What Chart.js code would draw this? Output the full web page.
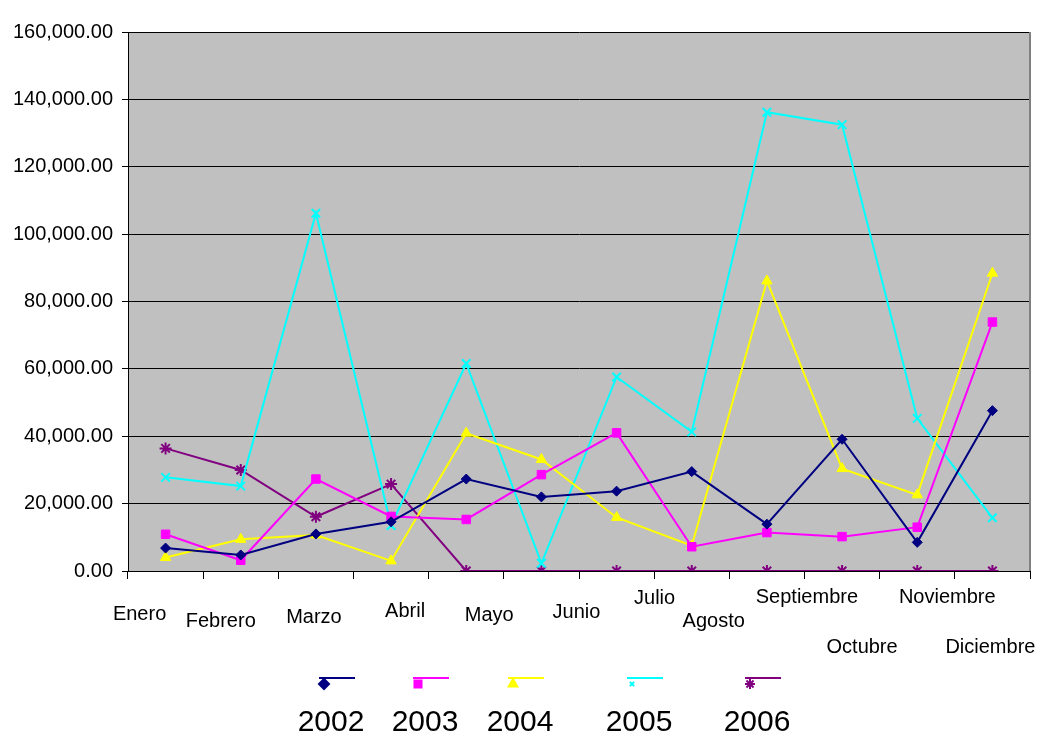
<!DOCTYPE html>
<html>
<head>
<meta charset="utf-8">
<script src="https://cdn.jsdelivr.net/npm/chart.js@4.4.1/dist/chart.umd.min.js"></script>
<style>
    body { margin: 0; background: #ffffff; }
    #grafica { display: block; }
</style>
</head>
<body>
<canvas id="grafica" width="1050" height="736"></canvas>
<script>
// Datos
const meses = ['Enero', 'Febrero', 'Marzo', 'Abril', 'Mayo', 'Junio', 'Julio', 'Agosto', 'Septiembre', 'Octubre', 'Noviembre', 'Diciembre'];
const anios = ['2002', '2003', '2004', '2005', '2006'];
const valores2002 = [6800, 4750, 11000, 14600, 27300, 22000, 23700, 29500, 13900, 39100, 8500, 47600];
const valores2003 = [10900, 3200, 27300, 16200, 15300, 28600, 41000, 7200, 11400, 10200, 13000, 73900];
const valores2004 = [4000, 9400, 10700, 3000, 40900, 33100, 15900, 7500, 86100, 30400, 22600, 88400];
const valores2005 = [27800, 25200, 106200, 13500, 61600, 2300, 57600, 41300, 136200, 132500, 45300, 15800];
const valores2006 = [36400, 30000, 16100, 25800, 0, 0, 0, 0, 0, 0, 0, 0];
const ticksY = [0, 20000, 40000, 60000, 80000, 100000, 120000, 140000, 160000];

// Estilos de cada serie
const colores = ['#000080', '#FF00FF', '#FFFF00', '#00FFFF', '#800080'];
const marcadores = ['rectRot', 'rect', 'triangle', 'crossRot', 'star'];
const radios = [5, 6, 6, 6, 6];

// Posición de las etiquetas del eje X (desplazamiento respecto al centro y línea base)
const etiquetaPos = [[-26, 620], [-20, 627], [-2, 623], [14, 617], [23, 621], [35, 618],
    [38, 604], [22, 627], [40, 603], [20, 653], [30, 603], [-2, 653]];
// Leyenda: centro del texto
const leyendaX = [331, 425, 520, 639, 757];

const fuente = 'Arial, "Liberation Sans", sans-serif';

const fondoGris = {
    id: 'fondoGris',
    beforeDraw(chart){
        const a = chart.chartArea;
        const ctx = chart.ctx;
        ctx.save();
        ctx.fillStyle = '#C0C0C0';
        ctx.fillRect(a.left, a.top, a.right - a.left, a.bottom - a.top);
        ctx.restore();
    },
    afterDraw(chart){
        const a = chart.chartArea;
        const ctx = chart.ctx;
        ctx.save();
        // borde derecho gris
        ctx.strokeStyle = '#808080';
        ctx.lineWidth = 2;
        ctx.beginPath();
        ctx.moveTo(a.right, a.top);
        ctx.lineTo(a.right, a.bottom);
        ctx.stroke();
        ctx.restore();
    }
};

const etiquetasMeses = {
    id: 'etiquetasMeses',
    afterDraw(chart){
        const ctx = chart.ctx;
        const escala = chart.scales.x;
        ctx.save();
        ctx.fillStyle = '#000';
        ctx.font = '20px ' + fuente;
        ctx.textAlign = 'center';
        ctx.textBaseline = 'alphabetic';
        for (let i = 0; i < meses.length; i++) {
            const x = escala.getPixelForValue(i) + etiquetaPos[i][0];
            ctx.fillText(meses[i], x, etiquetaPos[i][1]);
        }
        ctx.restore();
    }
};

const leyenda = {
    id: 'leyenda',
    afterDraw(chart){
        const ctx = chart.ctx;
        ctx.save();
        for (let i = 0; i < anios.length; i++) {
            const x0 = leyendaX[i] - 12;
            ctx.strokeStyle = colores[i];
            ctx.fillStyle = colores[i];
            ctx.lineWidth = 2;
            ctx.beginPath();
            ctx.moveTo(x0, 678);
            ctx.lineTo(x0 + 36, 678);
            ctx.stroke();
            Chart.helpers.drawPoint(ctx, {
                pointStyle: marcadores[i],
                radius: i === 3 ? 3 : 5,
                rotation: 0,
                borderWidth: 2
            }, x0 + 5, 684);
            ctx.fillStyle = '#000';
            ctx.font = '30px ' + fuente;
            ctx.textAlign = 'center';
            ctx.textBaseline = 'alphabetic';
            ctx.fillText(anios[i], leyendaX[i], 731);
        }
        ctx.restore();
    }
};

function crearSeries(){
    const series = [valores2002, valores2003, valores2004, valores2005, valores2006];
    return series.map((datos, i) => ({
        label: anios[i],
        data: datos,
        borderColor: colores[i],
        backgroundColor: colores[i],
        borderWidth: 2,
        pointStyle: marcadores[i],
        pointRadius: radios[i],
        pointBorderWidth: (i === 3 || i === 4) ? 2 : 1,
        pointBorderColor: colores[i],
        pointBackgroundColor: colores[i],
        tension: 0
    }));
}

function formatoNumero(v){
    return v.toLocaleString('en-US', { minimumFractionDigits: 2, maximumFractionDigits: 2 });
}

const ctx = document.getElementById('grafica').getContext('2d');
const grafica = new Chart(ctx, {
    type: 'line',
    data: {
        labels: meses,
        datasets: crearSeries()
    },
    options: {
        responsive: false,
        animation: false,
        devicePixelRatio: 1,
        layout: { padding: { top: 32, right: 20, left: 0, bottom: 0 } },
        plugins: {
            legend: { display: false },
            tooltip: { enabled: false }
        },
        scales: {
            x: {
                offset: true,
                grid: {
                    offset: true,
                    drawOnChartArea: false,
                    drawTicks: true,
                    tickLength: 8,
                    color: '#000'
                },
                border: { color: '#000', width: 1 },
                ticks: { display: false },
                afterFit(escala){ escala.height = 165; }
            },
            y: {
                min: 0,
                max: 160000,
                afterBuildTicks(escala){ escala.ticks = ticksY.map(v => ({ value: v })); },
                grid: {
                    color: '#000',
                    lineWidth: 1,
                    tickLength: 6
                },
                border: { color: '#000', width: 1 },
                ticks: {
                    color: '#000',
                    font: { family: fuente, size: 20 },
                    padding: 9,
                    callback: (v) => formatoNumero(v)
                },
                afterFit(escala){ escala.width = 128; }
            }
        }
    },
    plugins: [fondoGris, etiquetasMeses, leyenda]
});
</script>
</body>
</html>
